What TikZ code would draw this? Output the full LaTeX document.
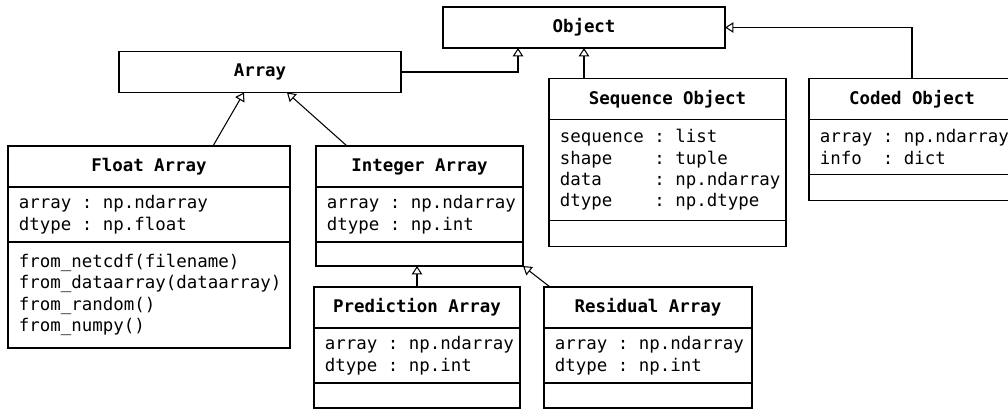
\documentclass[tikz,border=0pt]{standalone}
\usepackage{fontspec}
\setmonofont[HyphenChar=None]{DejaVu Sans Mono}
\usetikzlibrary{positioning, calc, arrows.meta}

\newcommand{\umlfont}{\fontsize{12.4}{15.2}\selectfont\ttfamily}
% a blank as wide as one letter
\newcommand{\umlsp}{\hphantom{x}}

\tikzset{
	classname/.style = {draw, line width = 1.3pt, outer sep = 0pt, font = \umlfont\bfseries, minimum height = 1.025cm, inner sep = 0pt},
	members/.style = {draw, line width = 1.3pt, outer sep = 0pt, font = \umlfont, align = left, inner xsep = 0.275cm, inner ysep = 0pt},
	extends/.style = {-{Triangle[open, length = 6pt, width = 7.5pt]}, line width = 0.75pt}
}

\begin{document}
\begin{tikzpicture}[x = 0.025cm, y = -0.025cm]

	\useasboundingbox (0, 0) rectangle (1008, 410);

	% Base classes
	
	\node [classname, minimum width = 7.05cm] (object) at (584, 27.5) {Object};
	\node [classname, minimum width = 7.05cm] (array) at (260, 72) {Array};
	
	% Sequence Object
	
	\node [classname, minimum width = 5.925cm] (seqhead) at (667.5, 99) {Sequence Object};
	\node [members, text width = 5.375cm, minimum height = 2.525cm, below = 0pt of seqhead] (seqattr)
		{sequence\umlsp:\umlsp list\\
		 shape\umlsp\umlsp\umlsp\umlsp:\umlsp tuple\\
		 data\umlsp\umlsp\umlsp\umlsp\umlsp:\umlsp np.ndarray\\
		 dtype\umlsp\umlsp\umlsp\umlsp:\umlsp np.dtype};
	\node [members, text width = 5.375cm, minimum height = 0.65cm, below = 0pt of seqattr] (seqops) {};
	
	% Coded Object
	
	\node [classname, minimum width = 5.15cm] (codedhead) at (912, 99) {Coded Object};
	\node [members, text width = 4.6cm, minimum height = 1.375cm, below = 0pt of codedhead] (codedattr)
		{array\umlsp:\umlsp np.ndarray\\info\umlsp\umlsp:\umlsp dict};
	\node [members, text width = 4.6cm, minimum height = 0.65cm, below = 0pt of codedattr] (codedops) {};
	
	% Float Array
	
	\node [classname, minimum width = 7.05cm] (floathead) at (149, 166.5) {Float Array};
	\node [members, text width = 6.5cm, minimum height = 1.375cm, below = 0pt of floathead] (floatattr)
		{array\umlsp:\umlsp np.ndarray\\dtype\umlsp:\umlsp np.float};
	\node [members, text width = 6.5cm, minimum height = 2.65cm, below = 0pt of floatattr] (floatops)
		{from\_netcdf(filename)\\from\_dataarray(dataarray)\\from\_random()\\from\_numpy()};
	
	% Integer Array
	
	\node [classname, minimum width = 5.175cm] (inthead) at (419.5, 166.5) {Integer Array};
	\node [members, text width = 4.625cm, minimum height = 1.375cm, below = 0pt of inthead] (intattr)
		{array\umlsp:\umlsp np.ndarray\\dtype\umlsp:\umlsp np.int};
	\node [members, text width = 4.625cm, minimum height = 0.6cm, below = 0pt of intattr] (intops) {};
	
	% Prediction Array
	
	\node [classname, minimum width = 5.15cm] (predhead) at (417, 307.5) {Prediction Array};
	\node [members, text width = 4.6cm, minimum height = 1.375cm, below = 0pt of predhead] (predattr)
		{array\umlsp:\umlsp np.ndarray\\dtype\umlsp:\umlsp np.int};
	\node [members, text width = 4.6cm, minimum height = 0.625cm, below = 0pt of predattr] (predops) {};
	
	% Residual Array
	
	\node [classname, minimum width = 5.2cm] (reshead) at (648, 307.5) {Residual Array};
	\node [members, text width = 4.65cm, minimum height = 1.375cm, below = 0pt of reshead] (resattr)
		{array\umlsp:\umlsp np.ndarray\\dtype\umlsp:\umlsp np.int};
	\node [members, text width = 4.65cm, minimum height = 0.625cm, below = 0pt of resattr] (resops) {};
	
	% Inheritance
	
	\draw [extends] (array.east) -| ($(object.south) + (-66, 0)$);
	\draw [extends] (object.south |- seqhead.north) -- (object.south);
	\draw [extends] (codedhead.north) |- (object.east);
	\draw [extends] ($(floathead.north) + (64, 0)$) -- ($(array.south) + (-16, 0)$);
	\draw [extends] ($(inthead.north) + (-72.5, 0)$) -- ($(array.south) + (27, 0)$);
	\draw [extends] (predhead.north) -- (predhead.north |- intops.south);
	\draw [extends] ($(reshead.north west) + (6, 0)$) -- (intops.south east);
	
\end{tikzpicture}
\end{document}
